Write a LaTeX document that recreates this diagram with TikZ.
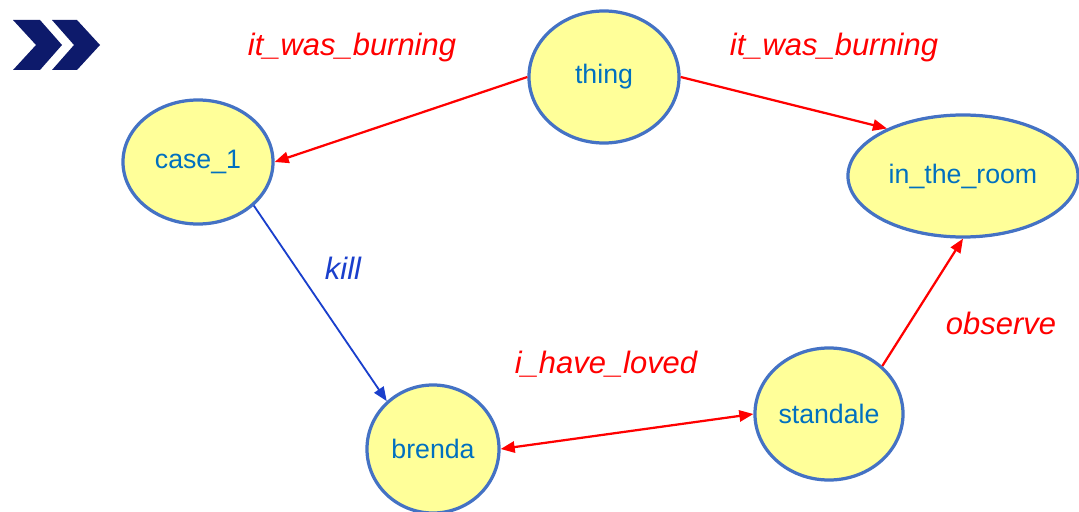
\documentclass[tikz,border=0pt]{standalone}
\usepackage{fontspec}
\setmainfont{Liberation Sans}
\usetikzlibrary{arrows.meta,shapes.geometric}

\definecolor{nodefill}{HTML}{FFFF99}
\definecolor{nodeline}{HTML}{4472C4}
\definecolor{nodetext}{HTML}{0070C0}
\definecolor{relred}{HTML}{FF0000}
\definecolor{relblue}{HTML}{1A3FCC}
\definecolor{navy}{HTML}{0D1A6B}

\begin{document}
\begin{tikzpicture}[x=0.025cm,y=-0.025cm,
entity/.style={ellipse,draw=nodeline,line width=2.3pt,fill=nodefill,text=nodetext,font=\fontsize{19}{21}\selectfont,inner sep=0pt},
rel/.style={font=\fontsize{22}{24}\selectfont\itshape,text=relred},
arrow/.style={-{Triangle[length=10pt,width=8pt]},line width=1.6pt,draw=relred},
twoway/.style={{Triangle[length=10pt,width=8pt]}-{Triangle[length=10pt,width=8pt]},line width=1.6pt,draw=relred}]

\useasboundingbox (0,0) rectangle (1079,512);

% chevrons
\fill[navy] (13,20) -- (40,20) -- (62,45) -- (40,70) -- (13,70) -- (36,45) -- cycle;
\fill[navy] (52,20) -- (77,20) -- (100,45) -- (77,70) -- (52,70) -- (74,45) -- cycle;

\node[entity,minimum width=3.75cm,minimum height=3.3cm] (thing) at (604,77) {thing};

\node[entity,minimum width=3.75cm,minimum height=3.1cm] (case1) at (198,162) {case\_1};

\node[entity,minimum width=5.75cm,minimum height=3.05cm] (room) at (963,176) {in\_the\_room};

\node[entity,minimum width=3.3cm,minimum height=3.2cm] (brenda) at (433,449) {brenda};

\node[entity,minimum width=3.7cm,minimum height=3.3cm] (standale) at (829,414) {standale};


\draw[arrow] (thing.west) -- (case1.east);

\draw[arrow] (thing.east) -- (room.148);

\draw[arrow,draw=relblue,line width=1.3pt] (case1.-38) -- (brenda.134);

\draw[twoway] (brenda.east) -- (standale.west);

\draw[arrow] (standale.42) -- (room.south);


\node[rel] (burn1) at (352,48) {it\_was\_burning};

\node[rel] (burn2) at (834,48) {it\_was\_burning};

\node[rel,text=relblue] (kill) at (343,268) {kill};

\node[rel] (loved) at (606,364) {i\_have\_loved};

\node[rel] (observe) at (1001,323) {observe};

\end{tikzpicture}
\end{document}
